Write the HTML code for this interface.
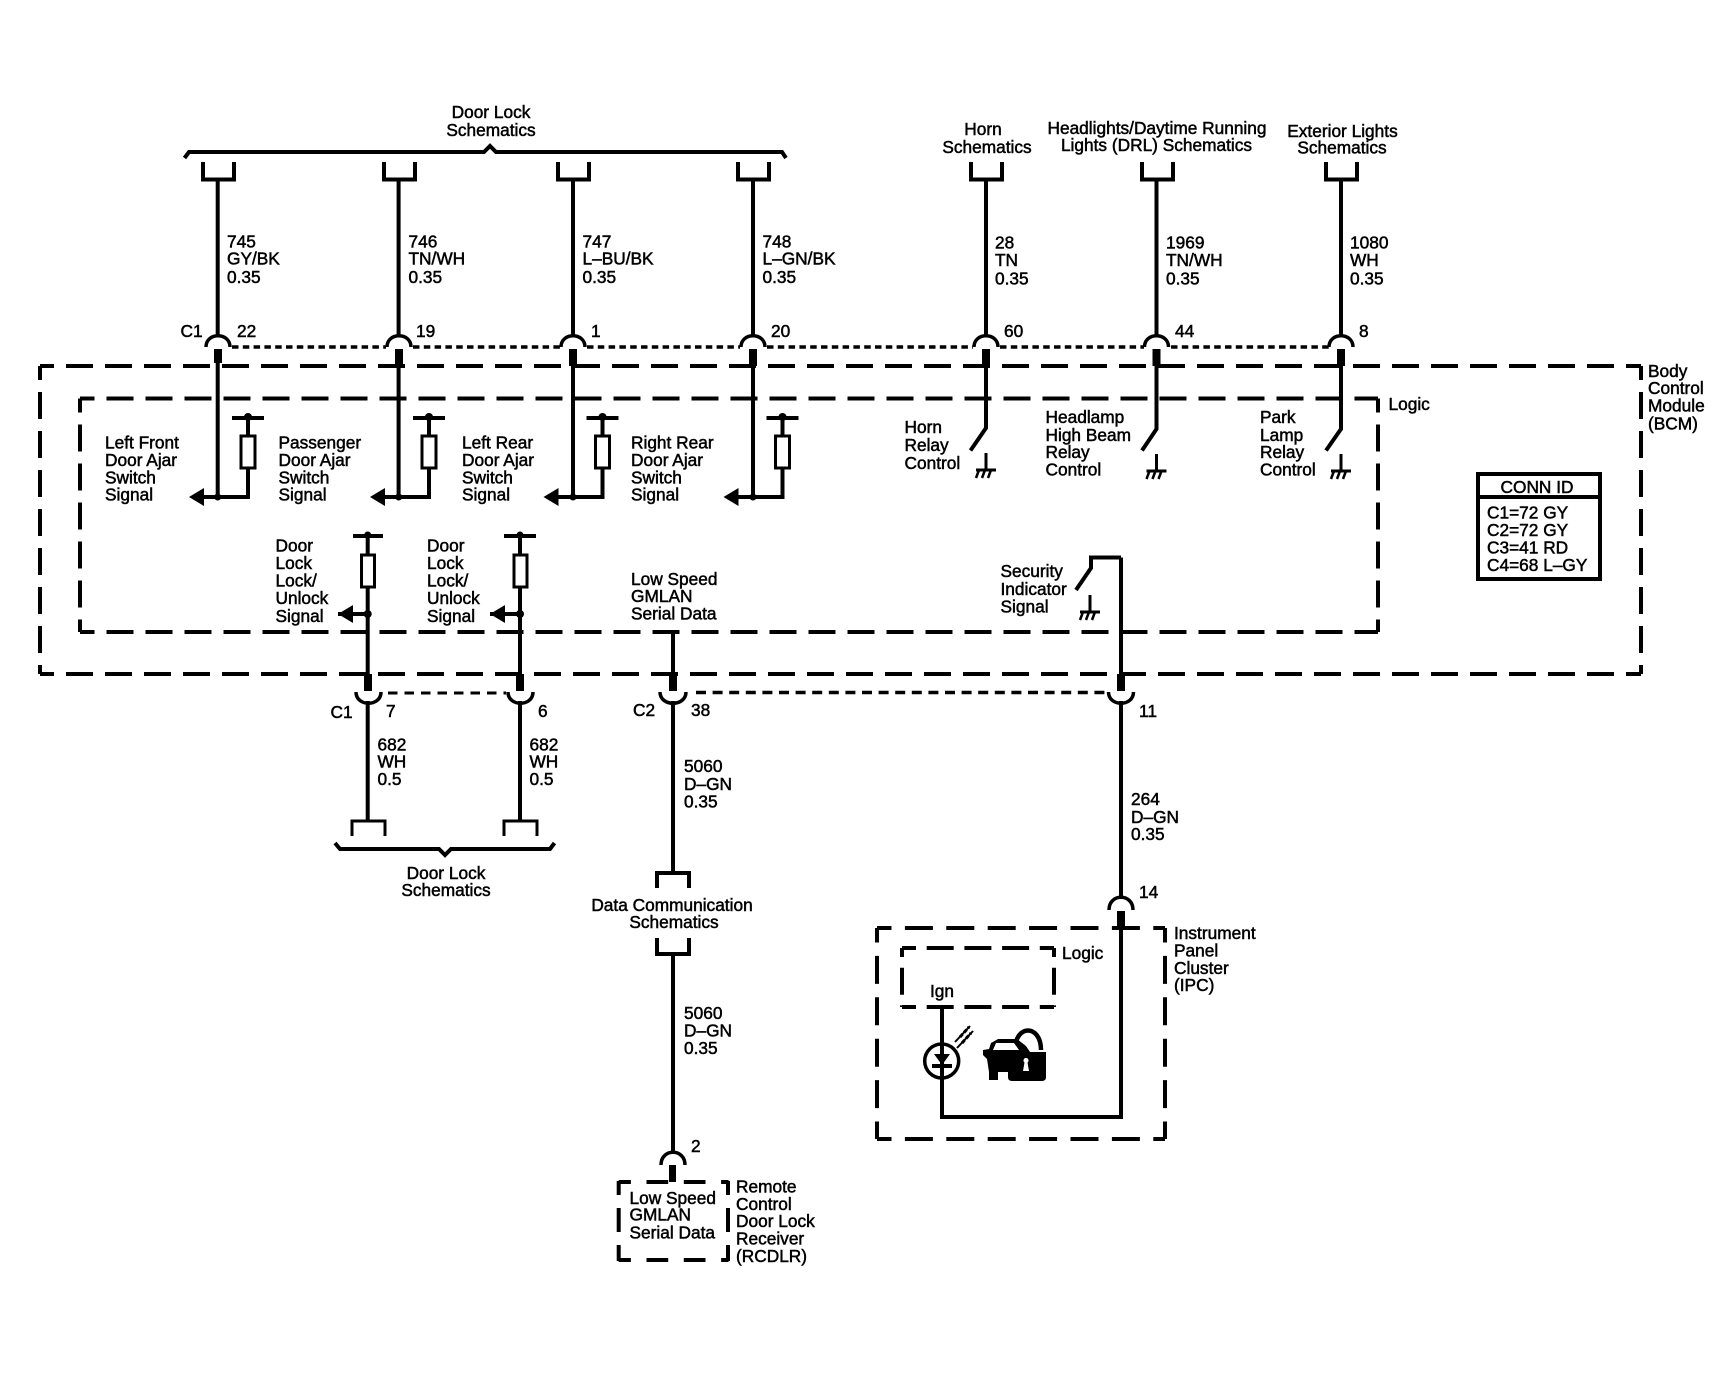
<!DOCTYPE html>
<html><head><meta charset="utf-8"><title>Door ajar wiring diagram</title>
<style>
html,body{margin:0;padding:0;background:#fff}
svg{display:block}
text{font-family:"Liberation Sans",sans-serif;font-size:17.3px;fill:#000;stroke:#000;stroke-width:.5}
.m{text-anchor:middle}
.w{fill:none;stroke:#000;stroke-width:4}
.t{fill:none;stroke:#000;stroke-width:3}
.a{fill:none;stroke:#000;stroke-width:3.5}
.d{fill:none;stroke:#000;stroke-width:4;stroke-dasharray:27 12}
.di{fill:none;stroke:#000;stroke-width:4;stroke-dasharray:28 13.4}
.dl{fill:none;stroke:#000;stroke-width:4;stroke-dasharray:27 10.7}
.o{fill:none;stroke:#000;stroke-width:3.5;stroke-dasharray:6.5 4.3}
.s{fill:none;stroke:#000;stroke-width:3;stroke-dasharray:9.5 7}
.l{fill:none;stroke:#000;stroke-width:3.5;stroke-dasharray:10 6.6}
.st{fill:#000}
</style></head><body>
<svg width="1736" height="1392" viewBox="0 0 1736 1392" xmlns="http://www.w3.org/2000/svg">
<rect width="1736" height="1392" fill="#fff"/>

<!-- BCM outer dashed -->
<path class="d" d="M40 366H1641" stroke-dashoffset="13"/>
<path class="d" d="M40 674H1641" stroke-dashoffset="13"/>
<path class="d" d="M40 366V674" stroke-dashoffset="13"/>
<path class="d" d="M1641 366V674" stroke-dashoffset="13"/>
<!-- BCM logic dashed -->
<path class="d" d="M80 398.5H1378" stroke-dashoffset="12.5"/>
<path class="d" d="M80 632H1378" stroke-dashoffset="12.5"/>
<path class="d" d="M80 398.5V632" stroke-dashoffset="13"/>
<path class="d" d="M1378 398.5V632" stroke-dashoffset="13"/>

<!-- top brace -->
<path class="w" d="M184.500 158L189 152H484L490 146L496 152H782L786 158"/>
<!-- top cups -->
<path class="w" d="M203 162V179.5H234V162M384 162V179.5H415V162M558 162V179.5H589V162M738 162V179.5H769V162M971 162V179.5H1002V162M1142 162V179.5H1173V162M1326 162V179.5H1357V162"/>

<!-- upper wires -->
<path class="w" d="M217.7 179V336M217.7 355V497M398.6 179V336M398.6 355V497M573 179V336M573 355V497M753 179V336M753 355V497"/>
<path class="w" d="M986 179V336M986 355V428L970.5 450.5M1156.5 179V336M1156.5 355V429L1142 450.5M1341 179V336M1341 355V429L1326 450.5"/>
<!-- upper arcs -->
<path class="a" d="M206 347C206 332 230 332 230 347M387 347C387 332 411 332 411 347M561 347C561 332 585 332 585 347M741 347C741 332 765 332 765 347M974 347C974 332 998 332 998 347M1144.500 347C1144.500 332 1168.500 332 1168.500 347M1329 347C1329 332 1353 332 1353 347"/>
<!-- upper stubs -->
<path class="st" d="M214 349h8v14h-8zM395 349h8v17h-8zM569 349h8v17h-8zM749 349h8v17h-8zM982 349h8v17h-8zM1152.500 349h8v17h-8zM1337 349h8v17h-8z"/>
<!-- upper dotted -->
<path class="o" d="M232 347H386M413 347H560M587 347H740M767 347H973M1000 347H1144M1171 347H1329"/>

<!-- door ajar branches -->
<g><path class="w" d="M204 497H248V418M232 418H264"/><path class="st" d="M189 497L204 488V506Z"/><circle class="st" cx="217.700" cy="497" r="3.500"/><circle class="st" cx="248" cy="417" r="4"/><rect x="241" y="436" width="14" height="32" fill="#fff" stroke="#000" stroke-width="3"/></g>
<g transform="translate(181,0)"><path class="w" d="M204 497H248V418M232 418H264"/><path class="st" d="M189 497L204 488V506Z"/><circle class="st" cx="217.700" cy="497" r="3.500"/><circle class="st" cx="248" cy="417" r="4"/><rect x="241" y="436" width="14" height="32" fill="#fff" stroke="#000" stroke-width="3"/></g>
<g transform="translate(354.500,0)"><path class="w" d="M204 497H248V418M232 418H264"/><path class="st" d="M189 497L204 488V506Z"/><circle class="st" cx="218.500" cy="497" r="3.500"/><circle class="st" cx="248" cy="417" r="4"/><rect x="241" y="436" width="14" height="32" fill="#fff" stroke="#000" stroke-width="3"/></g>
<g transform="translate(534.500,0)"><path class="w" d="M204 497H248V418M232 418H264"/><path class="st" d="M189 497L204 488V506Z"/><circle class="st" cx="218.500" cy="497" r="3.500"/><circle class="st" cx="248" cy="417" r="4"/><rect x="241" y="436" width="14" height="32" fill="#fff" stroke="#000" stroke-width="3"/></g>

<!-- grounds -->
<g fill="none" stroke="#000" stroke-width="3">
<path d="M986 453V470M976 470H996"/><path stroke-width="2.500" d="M979 470L976 478M985 470L982 478M991 470L988 478"/>
</g>
<g fill="none" stroke="#000" stroke-width="3" transform="translate(170.500,1)">
<path d="M986 453V470M976 470H996"/><path stroke-width="2.500" d="M979 470L976 478M985 470L982 478M991 470L988 478"/>
</g>
<g fill="none" stroke="#000" stroke-width="3" transform="translate(355,1)">
<path d="M986 453V470M976 470H996"/><path stroke-width="2.500" d="M979 470L976 478M985 470L982 478M991 470L988 478"/>
</g>
<g fill="none" stroke="#000" stroke-width="3" transform="translate(104,142)">
<path d="M986 453V470M976 470H996"/><path stroke-width="2.500" d="M979 470L976 478M985 470L982 478M991 470L988 478"/>
</g>

<!-- lower door lock wires -->
<path class="w" d="M367.700 537V684M367.700 701V820M520 537V684M520 701V820M353 536H383M504 536H536"/>
<path class="w" d="M338 614H367M490 614H520" stroke-width="3.500"/>
<path class="st" d="M338 614L353 605V623ZM490 614L505 605V623Z"/>
<circle class="st" cx="367.700" cy="614" r="4"/><circle class="st" cx="520" cy="614" r="4"/>
<circle class="st" cx="367.700" cy="535" r="3.500"/><circle class="st" cx="520" cy="535" r="3.500"/>
<rect x="361.500" y="555" width="13" height="32" fill="#fff" stroke="#000" stroke-width="3"/>
<rect x="514" y="555" width="13" height="32" fill="#fff" stroke="#000" stroke-width="3"/>
<path class="st" d="M364 674h8v17h-8zM516 674h8v17h-8zM669 674h8v17h-8zM1117 674h8v17h-8z"/>
<!-- lower arcs -->
<path class="a" d="M356 692C356 707 381 707 381 692M508 692C508 707 533 707 533 692M660 692C660 707 686 707 686 692M1108.500 692C1108.500 707 1133.500 707 1133.500 692"/>
<path class="s" d="M388 693H506"/>
<path class="l" d="M696 692.500H1107"/>
<!-- lower cups + brace -->
<path class="t" d="M352 836V821H385V836M504 836V821H537V836"/>
<path class="w" d="M335 843L340 849H439L445 855L451 849H550L554.500 843" stroke-width="3.500"/>

<!-- data wire -->
<path class="w" d="M673 632V690M673 701V873M673 954V1152"/>
<path class="w" d="M657 888V873H689V888M657 938V954H689V938"/>
<path class="a" d="M661 1165C661 1148 685 1148 685 1165"/>
<path class="st" d="M669 1165h7v17h-7z"/>
<!-- RCDLR box -->
<path fill="none" stroke="#000" stroke-width="4" stroke-dasharray="21.7 15.6" stroke-dashoffset="9.500" d="M618.700 1182H728.500"/>
<path fill="none" stroke="#000" stroke-width="4" stroke-dasharray="21.700 15.600" stroke-dashoffset="9.500" d="M618.700 1260H728.500"/>
<path fill="none" stroke="#000" stroke-width="4" stroke-dasharray="24 13" stroke-dashoffset="10" d="M618.700 1181V1261"/>
<path fill="none" stroke="#000" stroke-width="4" stroke-dasharray="24 13" stroke-dashoffset="10" d="M728 1181V1261"/>

<!-- security wire -->
<path class="w" d="M1121 557.500V684M1121 701V899M1121 920V1117H942V1007M1121 557.500H1091V568L1076 590"/>
<!-- IPC -->
<path class="di" d="M877 928H1165" stroke-dashoffset="13.500"/>
<path class="di" d="M877 1139H1165" stroke-dashoffset="13.500"/>
<path class="di" d="M877 928V1139" stroke-dashoffset="13.500"/>
<path class="di" d="M1165 928V1139" stroke-dashoffset="13.500"/>
<path class="dl" d="M902 948H1054" stroke-dashoffset="13"/>
<path class="dl" d="M902 1007H1054" stroke-dashoffset="13"/>
<path class="dl" d="M902 948V1007" stroke-dashoffset="18"/>
<path class="dl" d="M1054 948V1007" stroke-dashoffset="18"/>
<path class="a" d="M1109 910C1109 893 1133 893 1133 910"/>
<path class="st" d="M1117 911h8v17h-8z"/>
<!-- LED -->
<circle cx="941.700" cy="1061" r="17" fill="#fff" stroke="#000" stroke-width="3.500"/>
<path class="w" d="M942 1044V1078" stroke-width="3"/>
<path class="st" d="M934 1054H950L942 1065Z"/><path class="w" d="M932 1066H952" stroke-width="3"/>
<path fill="none" stroke="#000" stroke-width="2" d="M955 1042L970 1026M957 1048L973 1031"/>
<path fill="none" stroke="#000" stroke-width="3" stroke-dasharray="4 2" d="M960 1037L969 1027M962 1043L971 1033"/>
<!-- car / lock icon -->
<path fill="none" stroke="#000" stroke-width="4.500" d="M1015 1050C1015 1024 1041 1024 1041 1050"/>
<path class="st" d="M991 1043L998 1039H1017L1026 1046L1030 1052V1072H1016V1072H998V1080H989V1072L987 1059L983 1055V1050L989 1049Z"/>
<path fill="#fff" d="M996 1043H1014L1019 1050H993Z"/>
<path fill="none" stroke="#fff" stroke-width="2" d="M1021 1039C1027 1041 1032 1046 1034 1052"/>
<path class="st" d="M1008 1052H1046V1077Q1046 1081 1042 1081H1012Q1008 1081 1008 1077Z"/>
<path fill="#fff" d="M1026 1058a2.500 2.500 0 0 1 1.500 4.500L1029 1071H1023L1024.500 1062.500A2.500 2.500 0 0 1 1026 1058Z"/>
<!-- conn id -->
<rect x="1478" y="474" width="122" height="105" fill="#fff" stroke="#000" stroke-width="4"/>
<path class="w" d="M1478 497H1600"/>

<!-- TEXT -->
<text class="m" x="491" y="118">Door Lock</text>
<text class="m" x="491" y="136">Schematics</text>
<text class="m" x="983" y="135">Horn</text>
<text class="m" x="987" y="153">Schematics</text>
<text class="m" x="1157" y="134">Headlights/Daytime Running</text>
<text class="m" x="1156.500" y="151">Lights (DRL) Schematics</text>
<text class="m" x="1342.500" y="137">Exterior Lights</text>
<text class="m" x="1342" y="153.500">Schematics</text>

<text x="227" y="247.500">745</text><text x="227" y="264.500">GY/BK</text><text x="227" y="283">0.35</text>
<text x="408.500" y="247.500">746</text><text x="408.500" y="264.500">TN/WH</text><text x="408.500" y="283">0.35</text>
<text x="582.500" y="247.500">747</text><text x="582.500" y="264.500">L–BU/BK</text><text x="582.500" y="283">0.35</text>
<text x="762.500" y="247.500">748</text><text x="762.500" y="264.500">L–GN/BK</text><text x="762.500" y="283">0.35</text>
<text x="995" y="248.500">28</text><text x="995" y="266">TN</text><text x="995" y="284.500">0.35</text>
<text x="1166" y="248.500">1969</text><text x="1166" y="266">TN/WH</text><text x="1166" y="284.500">0.35</text>
<text x="1350" y="248.500">1080</text><text x="1350" y="266">WH</text><text x="1350" y="284.500">0.35</text>

<text x="180.500" y="337">C1</text><text x="237" y="337">22</text><text x="416" y="337">19</text><text x="591" y="337">1</text><text x="771" y="337">20</text>
<text x="1004" y="337">60</text><text x="1175" y="337">44</text><text x="1359" y="337">8</text>

<text x="1648" y="377">Body</text><text x="1648" y="394">Control</text><text x="1648" y="411.500">Module</text><text x="1648" y="429.500">(BCM)</text>
<text x="1388.500" y="410">Logic</text>

<text x="105" y="448.500">Left Front</text><text x="105" y="466">Door Ajar</text><text x="105" y="483.500">Switch</text><text x="105" y="500.500">Signal</text>
<text x="278.500" y="448.500">Passenger</text><text x="278.500" y="466">Door Ajar</text><text x="278.500" y="483.500">Switch</text><text x="278.500" y="500.500">Signal</text>
<text x="462" y="448.500">Left Rear</text><text x="462" y="466">Door Ajar</text><text x="462" y="483.500">Switch</text><text x="462" y="500.500">Signal</text>
<text x="631" y="448.500">Right Rear</text><text x="631" y="466">Door Ajar</text><text x="631" y="483.500">Switch</text><text x="631" y="500.500">Signal</text>

<text x="904.500" y="433">Horn</text><text x="904.500" y="451">Relay</text><text x="904.500" y="469">Control</text>
<text x="1045.500" y="423">Headlamp</text><text x="1045.500" y="441">High Beam</text><text x="1045.500" y="458">Relay</text><text x="1045.500" y="475.500">Control</text>
<text x="1260" y="423">Park</text><text x="1260" y="441">Lamp</text><text x="1260" y="458">Relay</text><text x="1260" y="475.500">Control</text>

<text class="m" x="1537" y="493">CONN ID</text>
<text x="1487" y="518.500">C1=72 GY</text><text x="1487" y="536">C2=72 GY</text><text x="1487" y="553.500">C3=41 RD</text><text x="1487" y="571">C4=68 L–GY</text>

<text x="275.500" y="551.500">Door</text><text x="275.500" y="569">Lock</text><text x="275.500" y="586.500">Lock/</text><text x="275.500" y="604">Unlock</text><text x="275.500" y="622">Signal</text>
<text x="427" y="551.500">Door</text><text x="427" y="569">Lock</text><text x="427" y="586.500">Lock/</text><text x="427" y="604">Unlock</text><text x="427" y="622">Signal</text>
<text x="631" y="585">Low Speed</text><text x="631" y="602">GMLAN</text><text x="631" y="619.500">Serial Data</text>
<text x="1000.500" y="577">Security</text><text x="1000.500" y="595">Indicator</text><text x="1000.500" y="612.500">Signal</text>

<text x="330.500" y="718">C1</text><text x="386" y="717">7</text><text x="538" y="717">6</text><text x="633" y="716">C2</text><text x="691" y="716">38</text><text x="1139" y="717">11</text>
<text x="377.500" y="750.500">682</text><text x="377.500" y="767.500">WH</text><text x="377.500" y="785">0.5</text>
<text x="529.500" y="750.500">682</text><text x="529.500" y="767.500">WH</text><text x="529.500" y="785">0.5</text>
<text x="684" y="772">5060</text><text x="684" y="790">D–GN</text><text x="684" y="807.500">0.35</text>
<text x="1131" y="805">264</text><text x="1131" y="823">D–GN</text><text x="1131" y="840">0.35</text>
<text x="1139" y="898">14</text>

<text class="m" x="446" y="879">Door Lock</text><text class="m" x="446" y="896">Schematics</text>
<text class="m" x="672" y="911">Data Communication</text><text class="m" x="674" y="928">Schematics</text>
<text x="684" y="1019">5060</text><text x="684" y="1036.500">D–GN</text><text x="684" y="1054">0.35</text>
<text x="691" y="1152">2</text>
<text x="629.500" y="1204">Low Speed</text><text x="629.500" y="1220.500">GMLAN</text><text x="629.500" y="1238.500">Serial Data</text>
<text x="736" y="1192.500">Remote</text><text x="736" y="1210">Control</text><text x="736" y="1227">Door Lock</text><text x="736" y="1244.500">Receiver</text><text x="736" y="1262">(RCDLR)</text>

<text x="1174" y="939">Instrument</text><text x="1174" y="956.500">Panel</text><text x="1174" y="974">Cluster</text><text x="1174" y="991">(IPC)</text>
<text x="1062" y="959">Logic</text>
<text x="930" y="997">Ign</text>
</svg>
</body></html>
